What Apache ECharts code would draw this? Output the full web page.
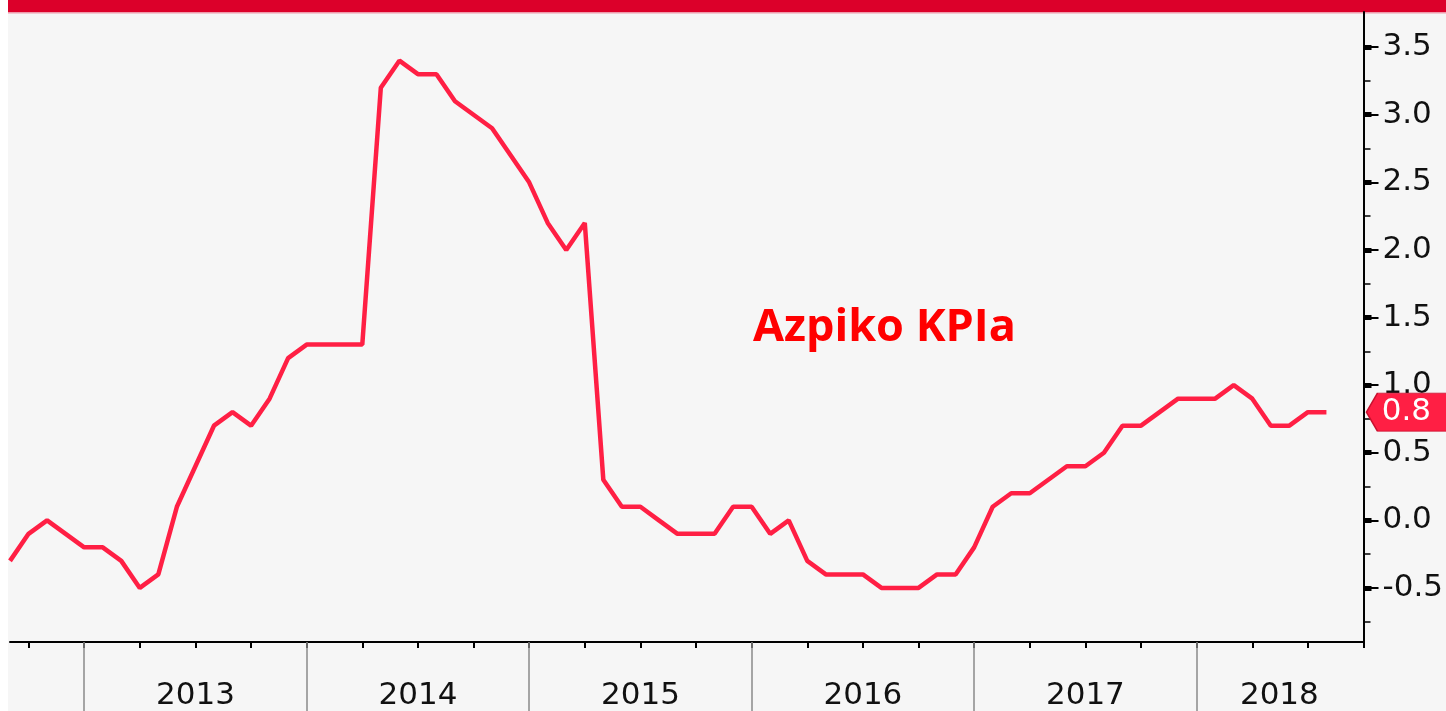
<!DOCTYPE html>
<html>
<head>
<meta charset="utf-8">
<script src="https://cdn.jsdelivr.net/npm/echarts@6/dist/echarts.min.js"></script>
<style>
  html, body { margin: 0; padding: 0; background: #fff; }
  #main { width: 1446px; height: 711px; background: linear-gradient(to right, #fff 8px, #f6f6f6 8px); }
</style>
</head>
<body>
<div id="main"></div>
<script>
// monthly core CPI, y/y %, 2012-08 .. 2018-07
var coreCpi = [
  -0.3, -0.1, 0.0, -0.1, -0.2, -0.2, -0.3, -0.5, -0.4, 0.1, 0.4, 0.7,
  0.8, 0.7, 0.9, 1.2, 1.3, 1.3, 1.3, 1.3, 3.2, 3.4, 3.3, 3.3,
  3.1, 3.0, 2.9, 2.7, 2.5, 2.2, 2.0, 2.2, 0.3, 0.1, 0.1, 0.0,
  -0.1, -0.1, -0.1, 0.1, 0.1, -0.1, 0.0, -0.3, -0.4, -0.4, -0.4, -0.5,
  -0.5, -0.5, -0.4, -0.4, -0.2, 0.1, 0.2, 0.2, 0.3, 0.4, 0.4, 0.5,
  0.7, 0.7, 0.8, 0.9, 0.9, 0.9, 1.0, 0.9, 0.7, 0.7, 0.8, 0.8
];
var yTicks = [-0.5, 0, 0.5, 1, 1.5, 2, 2.5, 3, 3.5];
var yMinorTicks = [-0.75, -0.25, 0.25, 0.75, 1.25, 1.75, 2.25, 2.75, 3.25];
var quarterMonths = [1, 4, 7, 10];
var lastYearLabel = '2018-06';   // 2018 label sits mid of the visible part

// month boundaries, first one = 2012-09
var months = [];
for (var i = 0; i < coreCpi.length + 2; i++) {
  var m = 8 + i;
  var yr = 2012 + Math.floor(m / 12);
  months.push(yr + '-' + String(m % 12 + 1).padStart(2, '0'));
}
var lastVal = coreCpi[coreCpi.length - 1];

var fontAxis = 'DejaVu Sans';

var myChart = echarts.init(document.getElementById('main'));
var option = {
  animation: false,
  backgroundColor: 'transparent',
  grid: { left: 10, right: 82, top: 12, bottom: 67.5 },
  title: {
    text: 'Azpiko KPIa',
    left: 748,
    top: 301,
    textStyle: { color: '#ff0000', fontFamily: 'Open Sans', fontWeight: 'bold', fontSize: 45 }
  },
  graphic: [
    { type: 'rect', shape: { x: 8, y: 0, width: 1438, height: 12 }, style: { fill: '#dc002a' } },
    { type: 'rect', shape: { x: 8, y: 12, width: 1438, height: 1.5 }, style: { fill: '#ee9aab' } }
  ],
  xAxis: [
    {
      type: 'category',
      data: months,
      boundaryGap: false,
      position: 'bottom',
      axisLine: { onZero: false, lineStyle: { color: '#000', width: 2 } },
      axisTick: {
        interval: function (idx, v) { return quarterMonths.indexOf(+v.slice(5)) >= 0; },
        length: 6,
        lineStyle: { color: '#000', width: 2 }
      },
      axisLabel: {
        interval: function (idx, v) {
          return (v.slice(5) === '07' && +v.slice(0, 4) < 2018) || v === lastYearLabel;
        },
        formatter: function (v) {
          return v === lastYearLabel ? '{s|' + v.slice(0, 4) + '}' : v.slice(0, 4);
        },
        margin: 38,
        fontFamily: fontAxis,
        fontSize: 31,
        color: '#111',
        rich: { s: { fontFamily: fontAxis, fontSize: 31, color: '#111', padding: [0, 20, 0, 0] } }
      },
      splitLine: { show: false }
    },
    {
      // year separators
      type: 'category',
      data: months,
      boundaryGap: false,
      position: 'bottom',
      offset: 0,
      axisLine: { show: false, onZero: false },
      axisTick: {
        interval: function (idx, v) { return v.slice(5) === '01'; },
        length: 70,
        lineStyle: { color: '#8a8a8a', width: 1.5 }
      },
      axisLabel: { show: false },
      splitLine: { show: false }
    }
  ],
  yAxis: [
    {
      type: 'value',
      position: 'right',
      min: -0.9,
      max: 3.76,
      axisLine: { show: true, lineStyle: { color: '#000', width: 2 } },
      axisTick: { show: true, customValues: yMinorTicks, length: 7, lineStyle: { color: '#000', width: 1.5 } },
      axisLabel: {
        customValues: yTicks,
        margin: 19,
        formatter: function (v) { return v.toFixed(1); },
        fontFamily: fontAxis,
        fontSize: 31,
        color: '#111'
      },
      splitLine: { show: false }
    },
    {
      type: 'value', position: 'right', min: -0.9, max: 3.76,
      axisLine: { show: false },
      axisTick: { show: true, customValues: yTicks, length: 15, lineStyle: { color: '#000', width: 2 } },
      axisLabel: { show: false },
      splitLine: { show: false }
    },
    {
      type: 'value', position: 'right', min: -0.9, max: 3.76,
      axisLine: { show: false },
      axisTick: { show: true, customValues: yTicks, length: 8, lineStyle: { color: '#000', width: 5 } },
      axisLabel: { show: false },
      splitLine: { show: false }
    }
  ],
  series: [
    {
      name: 'Azpiko KPIa',
      type: 'line',
      data: coreCpi,
      showSymbol: false,
      lineStyle: { color: '#ff1f44', width: 4.5 },
      markPoint: {
        silent: true,
        symbol: 'path://M0,19L11,0L100,0L100,38L11,38Z',
        symbolSize: [100, 38],
        symbolKeepAspect: false,
        symbolOffset: [90, 0],
        itemStyle: { color: '#ff1f44', borderColor: '#c8102e', borderWidth: 1 },
        label: {
          show: true,
          formatter: function (p) { return p.value.toFixed(1); },
          color: '#fff',
          fontFamily: fontAxis,
          fontSize: 31,
          offset: [-10, 0]
        },
        data: [{ coord: [coreCpi.length - 1, lastVal], value: lastVal }]
      }
    }
  ]
};
myChart.setOption(option, true);
</script>
</body>
</html>
